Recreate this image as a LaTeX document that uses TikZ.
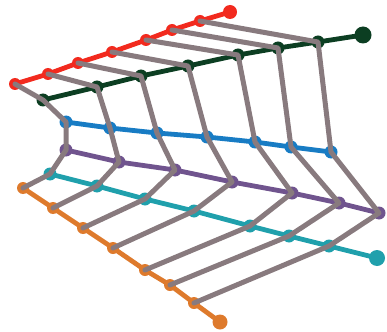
\documentclass[tikz,border=0pt]{standalone}
\definecolor{cred}{RGB}{242,42,30}
\definecolor{cgreen}{RGB}{12,62,34}
\definecolor{cblue}{RGB}{24,124,196}
\definecolor{cpurple}{RGB}{112,84,142}
\definecolor{cteal}{RGB}{32,160,172}
\definecolor{corange}{RGB}{222,122,44}
\definecolor{cgray}{RGB}{136,122,126}
\tikzset{
  chain/.style={line width=4.8pt, line cap=round, line join=round},
  link/.style={cgray, line width=5pt, line cap=round, line join=round},
  dotc/.style={circle, inner sep=0pt, minimum size=12pt, fill=#1},
  enddot/.style={circle, inner sep=0pt, minimum size=16pt, fill=#1},
}
\begin{document}
\begin{tikzpicture}[x=1pt,y=-1pt]
\useasboundingbox (0,0) rectangle (387,331);
% red
\foreach \n/\x/\y in {1/15/84,2/48/74,3/78/63,4/112/52,5/146/40,6/172/30,7/200/21}
  \node[dotc=cred] (r\n) at (\x,\y) {};
\node[enddot=cred, minimum size=14pt] (r8) at (230,12) {};
% green
\foreach \n/\x/\y in {1/43/100,2/97/87,3/141/76,4/188/66,5/238/55,6/278/48,7/318/42}
  \node[dotc=cgreen, minimum size=13pt] (g\n) at (\x,\y) {};
\node[enddot=cgreen, minimum size=17pt] (g8) at (363,35) {};
% blue
\foreach \n/\x/\y in {1/66/122,2/110/128,3/157/133,4/207/137,5/255/142,6/291/147,7/331/152}
  \node[dotc=cblue, minimum size=13pt] (b\n) at (\x,\y) {};
% purple
\foreach \n/\x/\y in {1/66/150,2/119/162,3/175/170,4/232/182,5/292/193,6/339/203,7/379/213}
  \node[dotc=cpurple, minimum size=13pt] (p\n) at (\x,\y) {};
% teal
\foreach \n/\x/\y in {1/50/174,2/97/186,3/145/199,4/194/211,5/250/226,6/289/236,7/329/246}
  \node[dotc=cteal, minimum size=13pt] (t\n) at (\x,\y) {};
\node[enddot=cteal] (t8) at (377,258) {};
% orange
\foreach \n/\x/\y in {1/23/188,2/53/208,3/83/228,4/113/248,5/145/270,6/170/285,7/194/303}
  \node[dotc=corange] (o\n) at (\x,\y) {};
\node[enddot=corange, minimum size=15pt] (o8) at (220,322) {};
% chains
\draw[chain, cred] (r1.center) -- (r2.center) -- (r3.center) -- (r4.center) -- (r5.center) -- (r6.center) -- (r7.center) -- (r8.center);
\draw[chain, cgreen] (g1.center) -- (g2.center) -- (g3.center) -- (g4.center) -- (g5.center) -- (g6.center) -- (g7.center) -- (g8.center);
\draw[chain, cblue] (b1.center) -- (b2.center) -- (b3.center) -- (b4.center) -- (b5.center) -- (b6.center) -- (b7.center);
\draw[chain, cpurple] (p1.center) -- (p2.center) -- (p3.center) -- (p4.center) -- (p5.center) -- (p6.center) -- (p7.center);
\draw[chain, cteal] (t1.center) -- (t2.center) -- (t3.center) -- (t4.center) -- (t5.center) -- (t6.center) -- (t7.center) -- (t8.center);
\draw[chain, corange] (o1.center) -- (o2.center) -- (o3.center) -- (o4.center) -- (o5.center) -- (o6.center) -- (o7.center) -- (o8.center);
% gray links
\foreach \i in {1,...,7}
  \draw[link] (r\i.center) -- (g\i.center) -- (b\i.center) -- (p\i.center) -- (t\i.center) -- (o\i.center);
\end{tikzpicture}
\end{document}
